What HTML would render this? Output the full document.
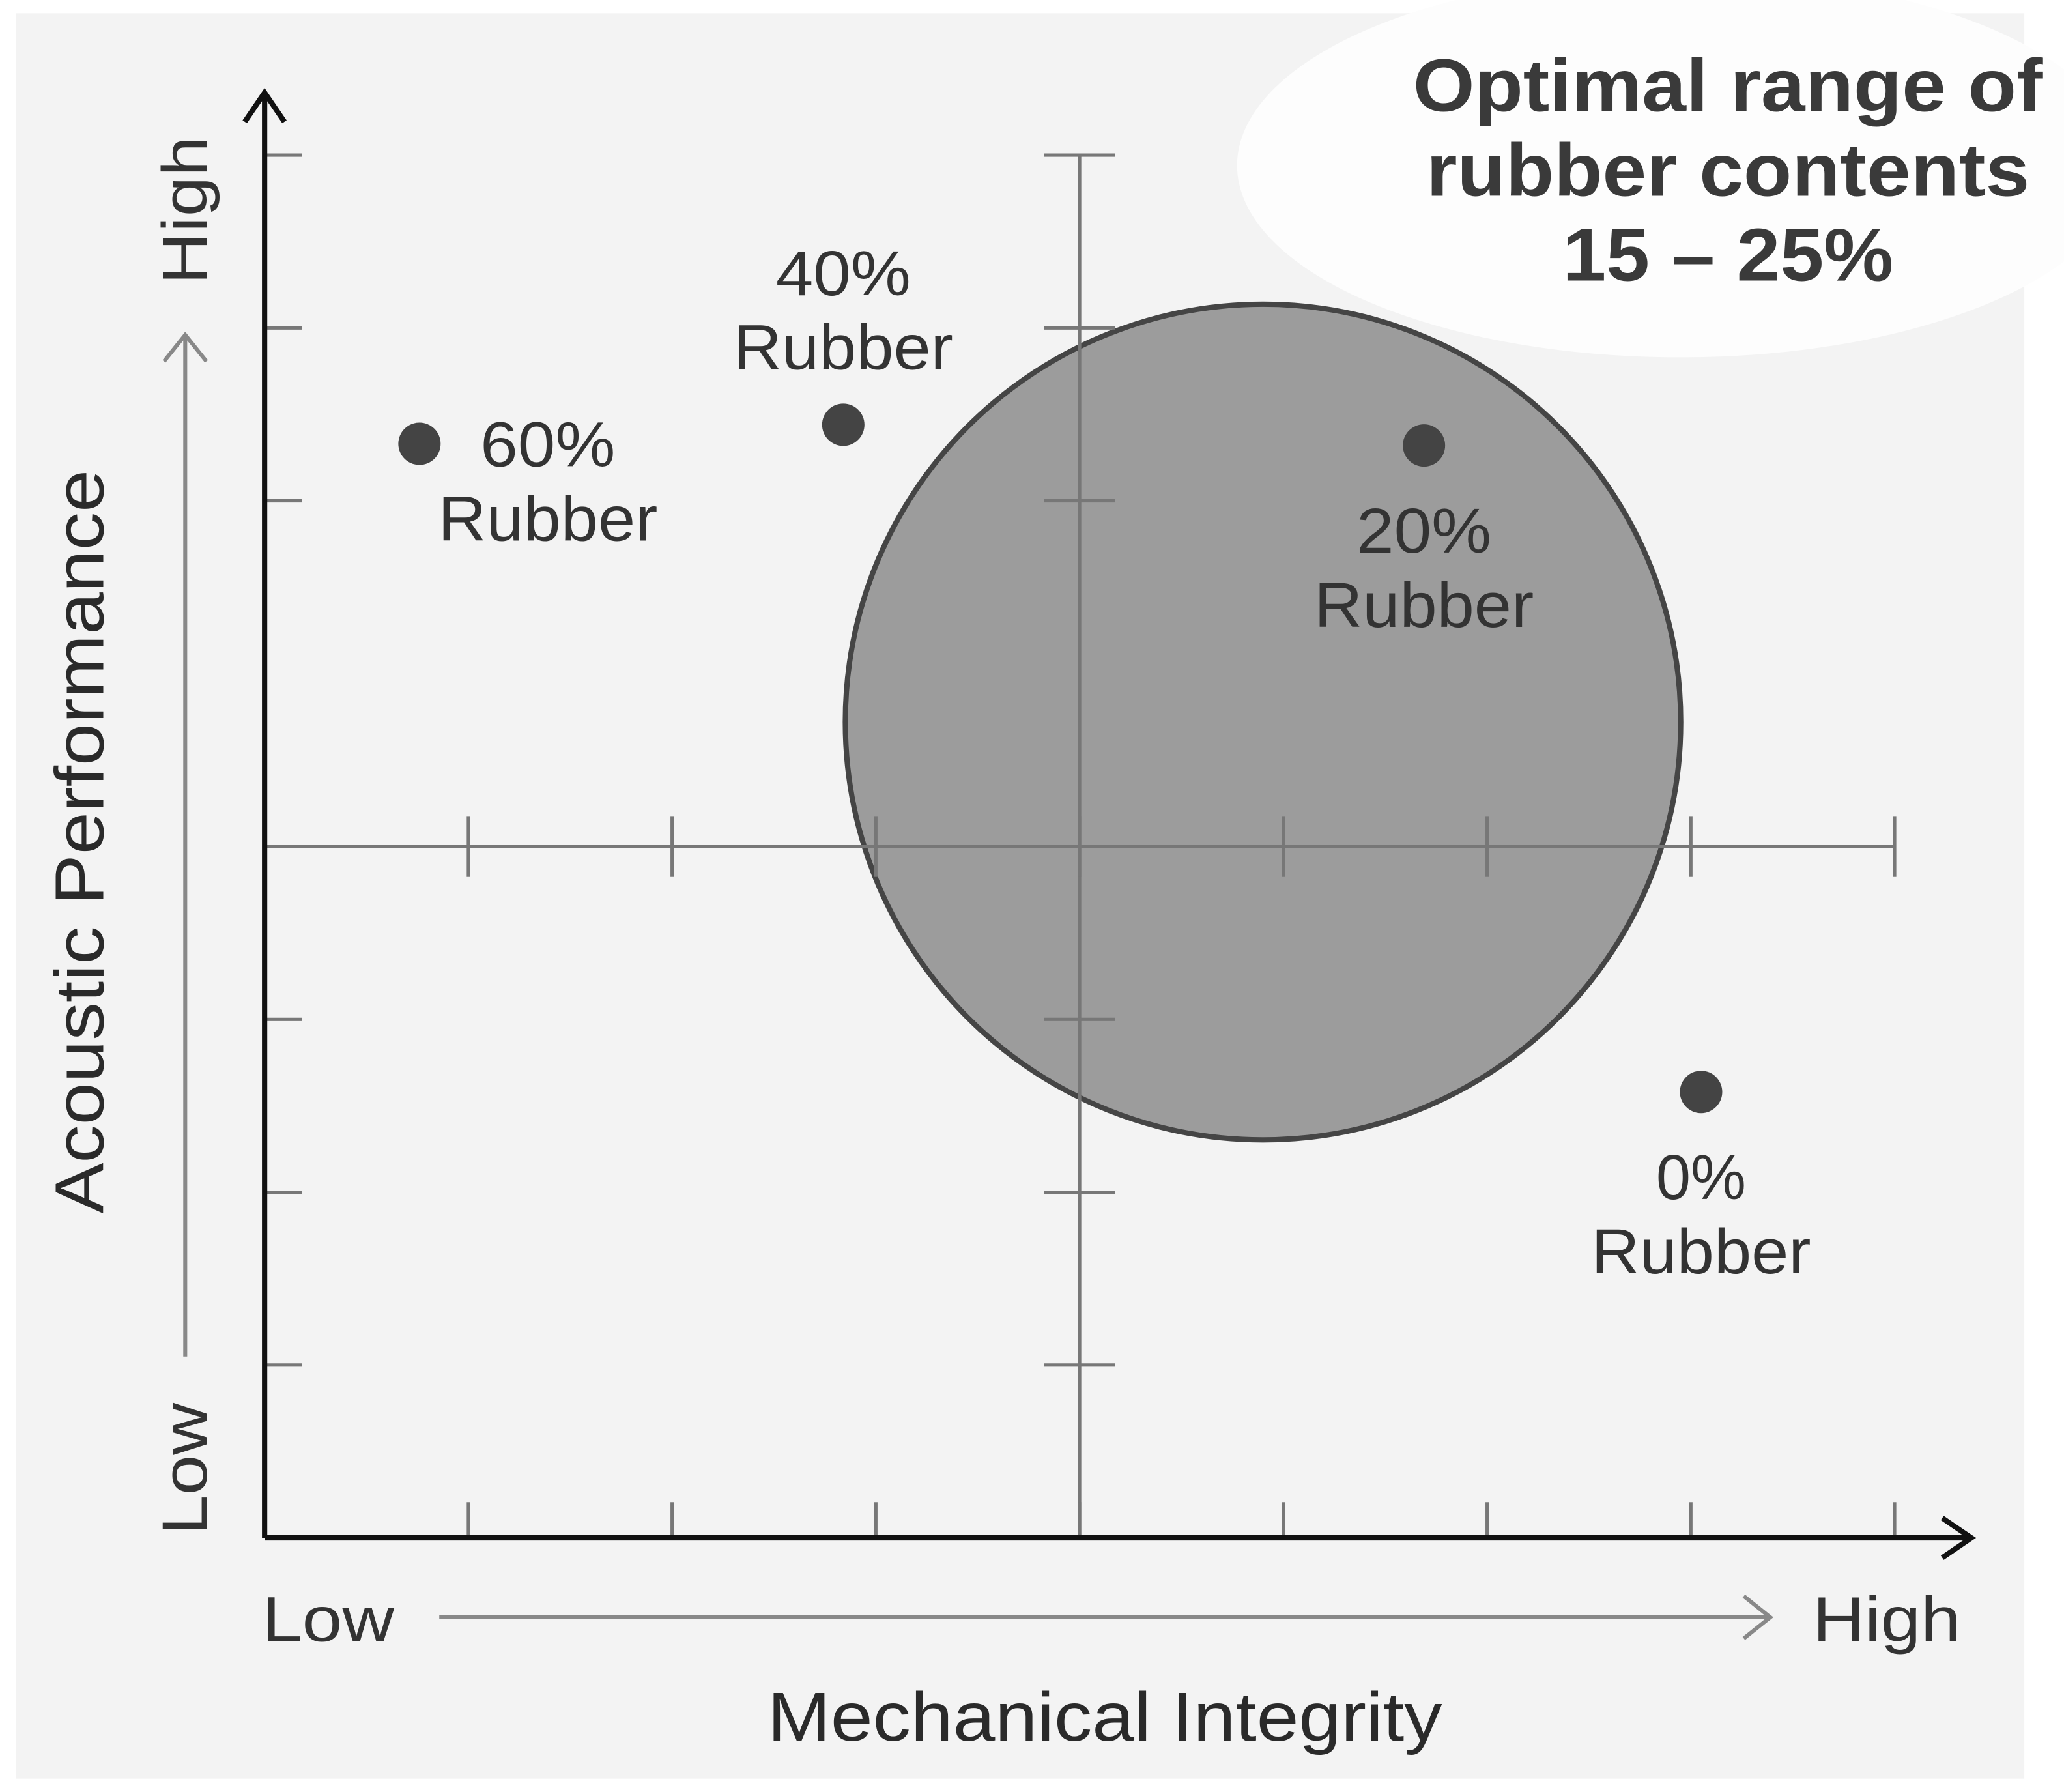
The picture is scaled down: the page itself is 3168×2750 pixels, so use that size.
<!DOCTYPE html>
<html><head><meta charset="utf-8"><style>
html,body{margin:0;padding:0;background:#fff;}
svg{display:block;font-family:"Liberation Sans","DejaVu Sans",sans-serif;}
</style></head><body>
<svg width="3168" height="2750" viewBox="0 0 1560 1354" preserveAspectRatio="none" xmlns="http://www.w3.org/2000/svg">
<rect x="0" y="0" width="1560" height="1354" fill="#ffffff"/>
<rect x="12" y="10" width="1518" height="1334" fill="#f3f3f3"/>
<ellipse cx="1270" cy="125" rx="335" ry="145" fill="#fdfdfd"/>
<g id="area"></g>
<g id="grid"></g>
<g id="marks"></g>
<text x="1306" y="84" font-size="56" font-weight="bold" fill="#3a3a3a" text-anchor="middle" textLength="476" lengthAdjust="spacingAndGlyphs">Optimal range of</text>
<text x="1306" y="148" font-size="56" font-weight="bold" fill="#3a3a3a" text-anchor="middle" textLength="456" lengthAdjust="spacingAndGlyphs">rubber contents</text>
<text x="1306" y="212" font-size="56" font-weight="bold" fill="#3a3a3a" text-anchor="middle" textLength="250" lengthAdjust="spacingAndGlyphs">15 – 25%</text>
<text x="198" y="1240" font-size="48" fill="#333" textLength="100" lengthAdjust="spacingAndGlyphs">Low</text>
<text x="1370" y="1240" font-size="48" fill="#333" textLength="112" lengthAdjust="spacingAndGlyphs">High</text>
<line x1="332" y1="1222" x2="1338" y2="1222" stroke="#888" stroke-width="3"/>
<polyline points="1318,1206 1338,1222 1318,1238" fill="none" stroke="#888" stroke-width="3"/>
<text x="835" y="1315" font-size="52" fill="#2a2a2a" text-anchor="middle" textLength="510" lengthAdjust="spacingAndGlyphs">Mechanical Integrity</text>
<text transform="translate(156,1160) rotate(-90)" font-size="48" fill="#333" textLength="100" lengthAdjust="spacingAndGlyphs">Low</text>
<text transform="translate(156,215) rotate(-90)" font-size="48" fill="#333" textLength="112" lengthAdjust="spacingAndGlyphs">High</text>
<line x1="140" y1="1025" x2="140" y2="255" stroke="#888" stroke-width="3"/>
<polyline points="124,273 140,253 156,273" fill="none" stroke="#888" stroke-width="3"/>
<text transform="translate(78,636) rotate(-90)" font-size="52" fill="#2a2a2a" text-anchor="middle" textLength="562" lengthAdjust="spacingAndGlyphs">Acoustic Performance</text>
<script>
const xTicks=[1,2,3,4,5,6,7,8];
const yTicks=[1,2,3,4,6,7,8];
const optimalCenter=[4.9,4.72];
const optimalRadius=[2.05];
const pointLabels=["60%","40%","20%","0%"];
const pointX=[0.76,2.84,5.69,7.05];
const pointY=[6.33,6.44,6.32,2.58];
const NS="http://www.w3.org/2000/svg";
const X0=200,Y0=1162,XS=154,YS=130.6;
function sx(v){return X0+v*XS;}
function sy(v){return Y0-v*YS;}
function mk(parent,tag,attrs){const e=document.createElementNS(NS,tag);for(const k in attrs)e.setAttribute(k,attrs[k]);parent.appendChild(e);return e;}
const area=document.getElementById('area');
const grid=document.getElementById('grid');
const marks=document.getElementById('marks');
let c=mk(area,'circle',{cx:sx(optimalCenter[0]),cy:sy(optimalCenter[1]),r:optimalRadius[0]*XS,fill:'#9c9c9c',stroke:'#454545','stroke-width':4});


const midX=sx(4),midY=sy(4);
let l=mk(grid,'line',{x1:midX,y1:sy(8),x2:midX,y2:Y0,stroke:'#777','stroke-width':2.5});


l=mk(grid,'line',{x1:X0,y1:midY,x2:sx(8),y2:midY,stroke:'#777','stroke-width':2.5});


xTicks.forEach(v=>{
 let t=mk(grid,'line',{x1:sx(v),y1:midY-23,x2:sx(v),y2:midY+23,stroke:'#777','stroke-width':2.5});
 
 
 let t2=mk(grid,'line',{x1:sx(v),y1:Y0-27,x2:sx(v),y2:Y0,stroke:'#777','stroke-width':2.5});
 
 
});
yTicks.forEach(v=>{
 let t=mk(grid,'line',{x1:midX-27,y1:sy(v),x2:midX+27,y2:sy(v),stroke:'#777','stroke-width':2.5});
 
 
 let t2=mk(grid,'line',{x1:X0,y1:sy(v),x2:X0+28,y2:sy(v),stroke:'#777','stroke-width':2.5});
 
 
});
let ax=mk(grid,'line',{x1:X0,y1:Y0,x2:X0,y2:72,stroke:'#111','stroke-width':4});


let ah=mk(grid,'polyline',{points:`${X0-15},92 ${X0},70 ${X0+15},92`,fill:'none',stroke:'#111','stroke-width':4});


ax=mk(grid,'line',{x1:X0,y1:Y0,x2:1488,y2:Y0,stroke:'#111','stroke-width':4});


ah=mk(grid,'polyline',{points:`1468,${Y0-15} 1490,${Y0} 1468,${Y0+15}`,fill:'none',stroke:'#111','stroke-width':4});


const offs=[[97,0],[0,-115],[0,64],[0,64]];
pointLabels.forEach((lab,i)=>{
 const px=sx(pointX[i]),py=sy(pointY[i]);
 let p=mk(marks,'circle',{cx:px,cy:py,r:16,fill:'#444'});
 
 
 const o=offs[i];
 let t=mk(marks,'text',{x:px+o[0],y:py+o[1]+17,'font-size':48,fill:'#333','text-anchor':'middle',textLength:lab.length*34,lengthAdjust:'spacingAndGlyphs'});
 t.textContent=lab;
 
 
 let t2=mk(marks,'text',{x:px+o[0],y:py+o[1]+17+56,'font-size':48,fill:'#333','text-anchor':'middle',textLength:166,lengthAdjust:'spacingAndGlyphs'});
 t2.textContent='Rubber';
 
 
});
</script>
</svg>
</body></html>
